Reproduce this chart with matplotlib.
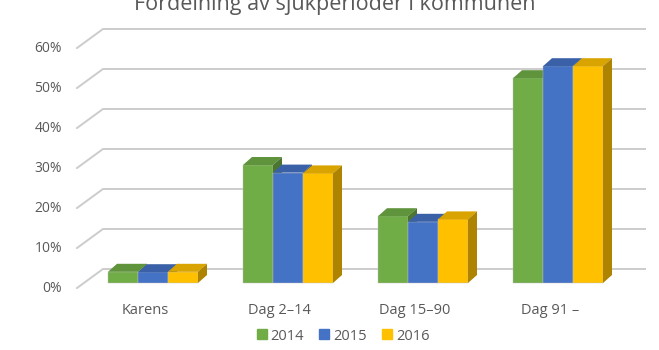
import numpy as np
import matplotlib
matplotlib.use("Agg")
import matplotlib.pyplot as plt
from matplotlib.patches import Polygon
from matplotlib.lines import Line2D
from matplotlib.colors import to_rgb

categories = ["Karens", "Dag 2\u201314", "Dag 15\u201390", "Dag 91 \u2013"]
years = ["2014", "2015", "2016"]
v2014 = [2.8, 29.5, 16.7, 51.2]
v2015 = [2.7, 27.6, 15.3, 54.2]
v2016 = [2.8, 27.4, 15.9, 54.2]
yticks = [0, 10, 20, 30, 40, 50, 60]
colors = ["#70AD47", "#4472C4", "#FFC000"]

plt.rcParams['font.family'] = ['Open Sans', 'DejaVu Sans']
txt = "#595959"

fig = plt.figure(figsize=(6.59, 3.5), dpi=100)
ax = fig.add_axes([0, 0, 1, 1])
ax.set_xlim(-153 / 135, (659 - 153) / 135)
ax.set_ylim((283 - 350) / 4, 283 / 4)
ax.axis("off")

# fake 3D geometry (data units)
wall_dx, wall_dy = 26 / 135, 19 / 4
wall_x0, wall_x1 = (103 - 153) / 135, (645 - 153) / 135
wall_off = 3.5
bar_w = 30 / 135
bar_dx, bar_dy = 9 / 135, 2.0

for p in yticks:
    yb = p + wall_off
    ax.plot([wall_x0 - wall_dx, wall_x0, wall_x1], [yb - wall_dy, yb, yb],
            color="#CCCCCC", lw=1.4, zorder=1)
    ax.text(-0.674, yb - wall_dy, f"{p}%", ha="right", va="center",
            fontsize=10, color=txt)

def shade(c, f):
    r, g, b = to_rgb(c)
    return (r * f, g * f, b * f)

series = [v2014, v2015, v2016]
x = np.arange(len(categories))
for i in x:
    for j, vals in enumerate(series):
        xl = i + (j - 1.5) * bar_w
        xr = xl + bar_w
        h = vals[i]
        c = colors[j]
        ax.bar(xl, h, width=bar_w, align="edge", color=c, edgecolor="#BFBFBF",
               lw=0.3, zorder=3 + j)
        top = Polygon([(xl, h), (xr, h), (xr + bar_dx, h + bar_dy), (xl + bar_dx, h + bar_dy)],
                      closed=True, fc=shade(c, 0.85), ec="none", zorder=3 + j)
        side = Polygon([(xr, 0), (xr, h), (xr + bar_dx, h + bar_dy), (xr + bar_dx, bar_dy)],
                       closed=True, fc=shade(c, 0.68), ec="none", zorder=3 + j)
        ax.add_patch(top)
        ax.add_patch(side)
    ax.text(i - 0.06, -6.75, categories[i], ha="center", va="center",
            fontsize=10.5, color=txt)

handles = [Line2D([], [], marker="s", ls="none", color=c, markersize=6.5) for c in colors]
fig.legend(handles, years, loc="center", bbox_to_anchor=(0.52, 0.04), ncol=3,
           frameon=False, fontsize=10.5, labelcolor=txt, handletextpad=0.2,
           columnspacing=1.0, handlelength=0.8)

fig.text(335 / 659, 1 - 10 / 350, "F\u00f6rdelning av sjukperioder i kommunen",
         ha="center", va="baseline", fontsize=15.5, color=txt)

fig.savefig("out.png", dpi=100)
